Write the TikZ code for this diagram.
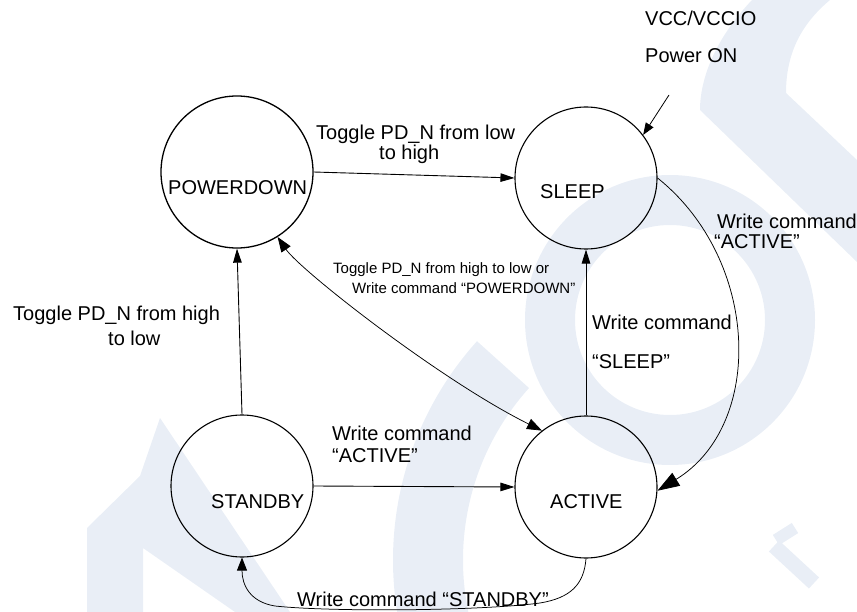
\documentclass[tikz,border=0pt]{standalone}
\usepackage{fontspec}
\setmainfont{Liberation Sans}
\usetikzlibrary{arrows.meta}
\definecolor{wmark}{RGB}{233,238,246}
\begin{document}
\begin{tikzpicture}[x=1pt,y=-1pt,
  state/.style={draw, circle, line width=1.1pt, inner sep=0pt, minimum size=142pt},
  txt/.style={inner sep=0pt, anchor=base west, font=\fontsize{20}{24}\selectfont},
  smalltxt/.style={inner sep=0pt, anchor=base west, font=\fontsize{15}{18}\selectfont},
  conn/.style={line width=0.9pt, -{Triangle[length=14pt,width=8.5pt]}},
  curvy/.style={line width=0.75pt}
]
\useasboundingbox (0,0) rectangle (857,612);

% background logo shapes
\begin{scope}
  \clip (0,0) rectangle (857,612);
  \fill[wmark, even odd rule] (670,320) circle[radius=145pt] (670,320) circle[radius=95pt];
  \fill[wmark] (720,560) ++(138:327pt) arc[start angle=138, end angle=200, radius=327pt]
    -- ([shift={(200:257pt)}]720,560) arc[start angle=200, end angle=138, radius=257pt] -- cycle;
  \fill[wmark] (87,612) -- (87,528) -- (140,476) -- (160,418) -- (290,612) -- (235,612)
    -- (143,548) -- (143,612) -- cycle;
  \fill[wmark] (752,0) .. controls (714,40) and (700,80) .. (700,110) -- (857,262)
    -- (857,160) -- (786,93) .. controls (786,55) and (800,25) .. (830,0) -- cycle;
  \draw[wmark, line width=15pt] (774,546) -- (814,583);
  \draw[wmark, line width=12pt] (776,540) -- (795,528);
\end{scope}

% states
\node[state, line width=1.3pt, minimum size=152pt] (pd) at (237,172) {};
\node[state] (sl) at (586,178) {};
\node[state] (sb) at (242,486) {};
\node[state] (ac) at (586,487) {};

\node[txt] (pdtxt) at (168,195) {POWERDOWN};
\node[txt] (sltxt) at (540,199) {SLEEP};
\node[txt] (sbtxt) at (211,508) {STANDBY};
\node[txt] (actxt) at (550,508) {ACTIVE};

% power-on entry
\coordinate (pwr) at (669,95);
\node[txt] (vcc) at (645,26) {VCC/VCCIO};
\node[txt] (pon) at (645,63) {Power ON};
\draw[line width=0.8pt, -{Triangle[length=12pt,width=9pt]}] (pwr) -- (sl.37);

% transitions
\draw[conn] (pd.east) -- (sl.west);
\node[txt] (t1a) at (316,140) {Toggle PD\_N from low};
\node[txt] (t1b) at (379,160) {to high};

\draw[conn] (sb.north) -- (pd.south);
\node[txt] (t2a) at (13,321) {Toggle PD\_N from high};
\node[txt] (t2b) at (108,345) {to low};

\draw[conn] (ac.north) -- (sl.south);
\node[txt] (ws1) at (592,330) {Write command};
\node[txt] (ws2) at (592,368) {“SLEEP”};

\draw[conn] (sb.east) -- (ac.west);
\node[txt] (wb1) at (332,440) {Write command};
\node[txt] (wb2) at (332,462) {“ACTIVE”};

\draw[curvy, -{Triangle[length=22pt,width=15pt]}] (sl.east)
  .. controls (760,260) and (765,425) .. (ac.-3);
\node[txt] (wa1) at (717,229) {Write command};
\node[txt] (wa2) at (714,249) {“ACTIVE”};

\draw[curvy, {Triangle[length=15pt,width=11pt]}-{Triangle[length=15pt,width=11pt]}] (pd.-58)
  .. controls (300,270) and (440,380) .. (ac.128);
\node[smalltxt] (m1) at (333,274) {Toggle PD\_N from high to low or};
\node[smalltxt] (m2) at (352,294) {Write command “POWERDOWN”};

\draw[curvy, -{Triangle[length=13pt,width=10pt]}] (ac.south)
  .. controls (584,585) and (570,598) .. (540,603)
  .. controls (480,611) and (330,612) .. (275,606)
  .. controls (250,602) and (242,585) .. (sb.south);
\node[txt] (wst) at (297,606) {Write command “STANDBY”};
\end{tikzpicture}
\end{document}
